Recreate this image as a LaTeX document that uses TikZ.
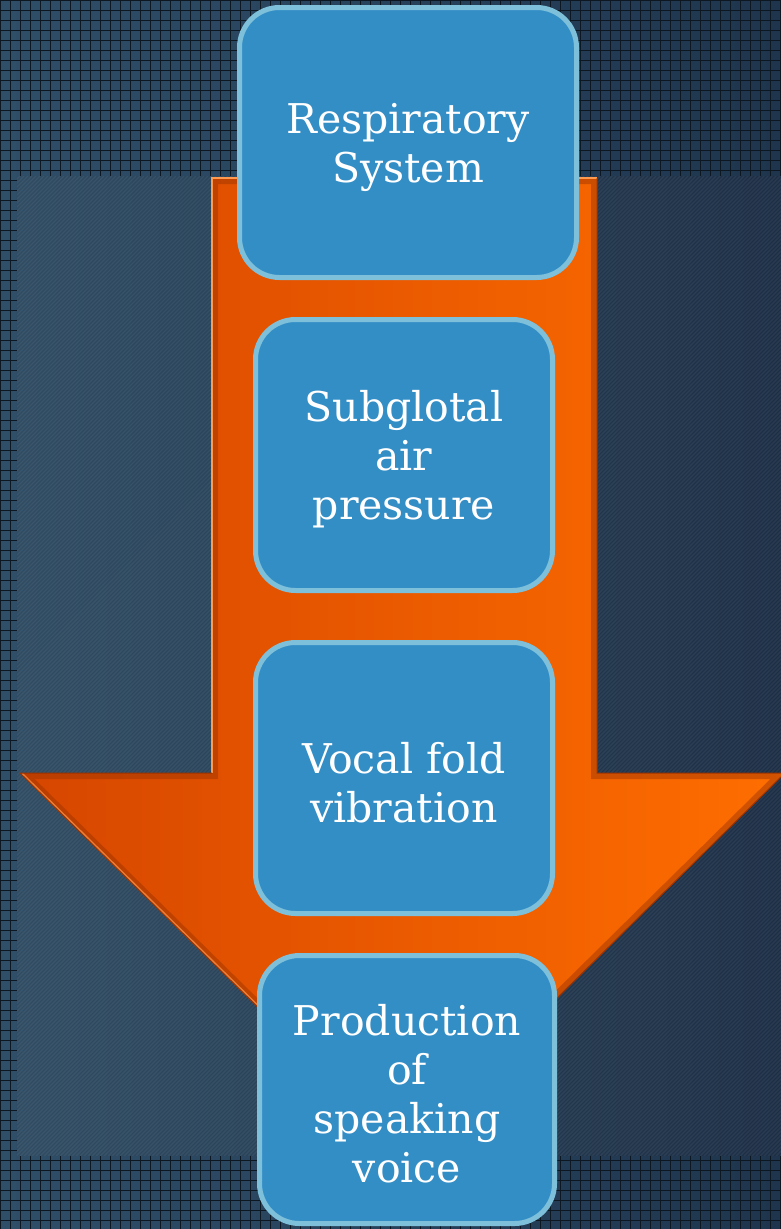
\documentclass[tikz,border=0pt]{standalone}
\usepackage{fontspec}
\setmainfont{DejaVu Serif}
\usetikzlibrary{positioning}

\definecolor{bgleft}{HTML}{2F4E68}
\definecolor{bgright}{HTML}{1F354E}
\definecolor{panelleft}{HTML}{2F4C63}
\definecolor{panelright}{HTML}{1C2E45}
\definecolor{gridink}{HTML}{0C1722}
\definecolor{arrowleft}{HTML}{D64600}
\definecolor{arrowright}{HTML}{FF6E00}
\definecolor{arrowrim}{HTML}{FF9A50}
\definecolor{arrowdark}{HTML}{9A3200}
\definecolor{boxfill}{HTML}{338EC6}
\definecolor{boxedge}{HTML}{7EC0DA}

% taller first line, so the text sits a bit lower in its box
\newcommand{\capstrut}{\rule{0pt}{40pt}}

\tikzset{
  gridline/.style={gridink, line width=0.8pt},
  hatch/.style={white, opacity=0.06, line width=1.4pt},
  stage/.style={rectangle, rounded corners=40pt, fill=boxfill, draw=boxedge,
    line width=5pt, text=white, align=center, inner sep=0pt,
    font=\fontsize{41}{49}\selectfont},
}

\begin{document}
\begin{tikzpicture}[x=1pt, y=-1pt]
  \useasboundingbox (0,0) rectangle (781,1229);

  % Background with grid
  \shade[left color=bgleft, right color=bgright] (0,0) rectangle (781,1229);
  \foreach \g in {0,10,...,780}
    \draw[gridline] (\g,0) -- (\g,1229);
  \foreach \g in {0,10,...,1220}
    \draw[gridline] (0,\g) -- (781,\g);

  % Inner panel with fine diagonal stripes
  \shade[left color=panelleft, right color=panelright] (17,176) rectangle (781,1155);
  \begin{scope}
    \clip (17,176) rectangle (781,1155);
    \foreach \k in {-980,-976,...,784}
      \draw[hatch] (\k,1156) -- ++(980,-980);
  \end{scope}

  % Big orange arrow
  \path[shade, left color=arrowleft, right color=arrowright]
    (212,178) -- (597,178) -- (597,773) -- (785,773) -- (403,1150)
    -- (20,773) -- (212,773) -- cycle;
  \begin{scope}
    \clip (212,178) -- (597,178) -- (597,773) -- (785,773) -- (403,1150)
      -- (20,773) -- (212,773) -- cycle;
    \draw[arrowdark, opacity=0.45, line width=12pt]
      (212,178) -- (597,178) -- (597,773) -- (785,773) -- (403,1150)
      -- (20,773) -- (212,773) -- cycle;
    \draw[arrowrim, opacity=0.7, line width=4pt] (20,773) -- (403,1150);
  \end{scope}
  \draw[arrowrim, line width=1.2pt]
    (212,773) -- (212,178) -- (597,178);
  \draw[arrowdark, line width=1pt]
    (597,178) -- (597,773) -- (785,773) -- (403,1150) -- (20,773) -- (212,773);

  % Stages
  \node[stage, minimum width=337pt, minimum height=270pt] (resp) at (408,142.5)
    {\capstrut Respiratory\\System};
  \node[stage, minimum width=297pt, minimum height=271pt] (pressure) at (404,455)
    {\capstrut Subglotal\\air\\pressure};
  \node[stage, minimum width=297pt, minimum height=271pt] (vibration) at (404,778)
    {\capstrut Vocal fold\\vibration};
  \node[stage, minimum width=295pt, minimum height=268pt] (voice) at (407,1089.5)
    {\capstrut Production\\of\\speaking\\voice};
\end{tikzpicture}
\end{document}
